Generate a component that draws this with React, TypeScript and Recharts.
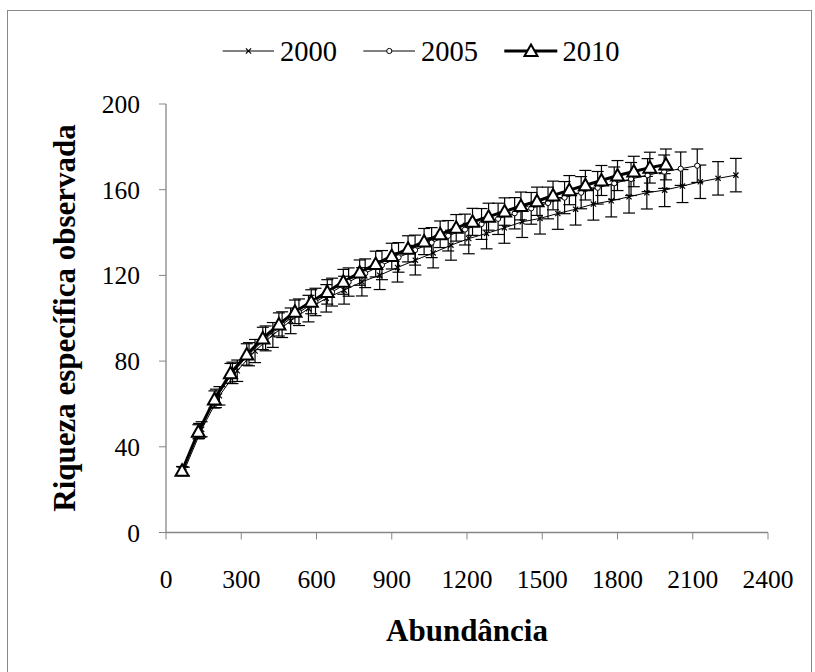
import React from "react";
import { LineChart, Line, XAxis, YAxis, ErrorBar } from "recharts";

const seriesNames = ["2000", "2005", "2010"];
const xTicks = [0, 300, 600, 900, 1200, 1500, 1800, 2100, 2400];
const yTicks = [0, 40, 80, 120, 160, 200];

const x2000 = [71, 142, 213, 284, 355, 426, 497, 568, 639, 710, 781, 852, 923, 994, 1065, 1136, 1207, 1278, 1349, 1420, 1491, 1562, 1633, 1704, 1775, 1846, 1917, 1988, 2059, 2130, 2201, 2272];
const y2000 = [28.5, 48.2, 63.8, 75.5, 84.7, 92.2, 98.8, 104.5, 109.3, 113.1, 117.0, 120.1, 123.7, 127.1, 130.5, 134.1, 137.2, 139.6, 142.2, 145.0, 146.6, 148.9, 150.9, 153.3, 154.8, 156.7, 158.6, 159.8, 161.7, 163.7, 165.3, 166.8];
const e2000 = [2.0, 3.5, 4.3, 5.0, 5.4, 5.8, 6.0, 6.2, 6.4, 6.5, 6.6, 6.7, 6.8, 6.9, 7.0, 7.0, 7.1, 7.2, 7.2, 7.3, 7.3, 7.4, 7.4, 7.5, 7.5, 7.6, 7.6, 7.7, 7.7, 7.8, 7.8, 7.8];

const x2005 = [66, 132, 199, 265, 331, 397, 463, 530, 596, 662, 728, 794, 861, 927, 993, 1059, 1125, 1192, 1258, 1324, 1390, 1456, 1523, 1589, 1655, 1721, 1787, 1854, 1920, 1986, 2052, 2118];
const y2005 = [28.6, 47.4, 62.6, 74.5, 83.2, 90.6, 97.0, 102.8, 107.6, 112.2, 116.9, 121.0, 124.8, 128.4, 131.8, 135.3, 138.5, 141.4, 144.0, 146.4, 149.0, 151.3, 153.8, 156.3, 158.6, 160.9, 163.0, 165.0, 166.8, 168.4, 169.8, 171.2];
const e2005 = [2.0, 3.5, 4.3, 5.0, 5.4, 5.8, 6.0, 6.2, 6.4, 6.5, 6.6, 6.7, 6.8, 6.9, 7.0, 7.0, 7.1, 7.2, 7.2, 7.3, 7.3, 7.4, 7.4, 7.5, 7.5, 7.6, 7.6, 7.7, 7.7, 7.8, 7.8, 7.8];

const x2010 = [64, 129, 193, 257, 322, 386, 450, 514, 579, 643, 707, 772, 836, 900, 965, 1029, 1093, 1157, 1222, 1286, 1350, 1415, 1479, 1543, 1608, 1672, 1736, 1800, 1865, 1929, 1993];
const y2010 = [28.8, 47.0, 62.1, 74.3, 83.1, 90.6, 97.1, 103.0, 107.7, 112.3, 117.0, 121.3, 125.3, 129.0, 132.4, 135.8, 139.2, 142.2, 145.0, 147.4, 149.8, 152.4, 154.6, 157.3, 159.8, 162.1, 164.3, 166.6, 168.5, 170.3, 171.8];
const e2010 = [2.0, 3.3, 4.0, 4.6, 5.0, 5.2, 5.4, 5.5, 5.6, 5.7, 5.8, 5.9, 6.0, 6.0, 6.1, 6.1, 6.2, 6.2, 6.3, 6.3, 6.4, 6.5, 6.6, 6.7, 6.8, 6.9, 7.0, 7.0, 7.1, 7.2, 7.2];

const build = (xs: number[], ys: number[], es: number[]) =>
  xs.map((x, i) => ({ x, y: ys[i], err: es[i] }));

const data2000 = build(x2000, y2000, e2000);
const data2005 = build(x2005, y2005, e2005);
const data2010 = build(x2010, y2010, e2010);

const FONT = '"Liberation Serif", "Times New Roman", serif';
const AXIS = "#868686";

const XMark = ({ cx, cy }: { cx: number; cy: number }) => (
  <g stroke="#000" strokeWidth={1.2}>
    <line x1={cx - 2.6} y1={cy - 2.6} x2={cx + 2.6} y2={cy + 2.6} />
    <line x1={cx - 2.6} y1={cy + 2.6} x2={cx + 2.6} y2={cy - 2.6} />
  </g>
);
const CircleMark = ({ cx, cy }: { cx: number; cy: number }) => (
  <circle cx={cx} cy={cy} r={2.6} fill="#fff" stroke="#000" strokeWidth={1} />
);
const TriMark = ({ cx, cy }: { cx: number; cy: number }) => (
  <polygon
    points={`${cx},${cy - 6.5} ${cx + 6.5},${cy + 5} ${cx - 6.5},${cy + 5}`}
    fill="#fff"
    stroke="#000"
    strokeWidth={2}
    strokeLinejoin="miter"
  />
);

export default function App() {
  return (
    <div
      style={{
        position: "absolute",
        left: 0,
        top: 0,
        width: 815,
        height: 672,
        overflow: "hidden",
        background: "#fff",
      }}
    >
      <div style={{ position: "absolute", left: 0, top: 0 }}>
        <LineChart
          width={815}
          height={672}
          margin={{ top: 104, right: 47, left: 106, bottom: 109.5 }}
        >
          <XAxis
            dataKey="x"
            type="number"
            domain={[0, 2400]}
            ticks={xTicks}
            allowDataOverflow
            stroke={AXIS}
            tickSize={7}
            tickMargin={30}
            height={30}
            tick={{ fill: "#000", fontSize: 25.5, fontFamily: FONT }}
            tickLine={{ stroke: AXIS }}
            axisLine={{ stroke: AXIS, strokeWidth: 1.3 }}
          />
          <YAxis
            type="number"
            domain={[0, 200]}
            ticks={yTicks}
            width={60}
            stroke={AXIS}
            tickSize={7}
            tickMargin={19}
            tick={{ fill: "#000", fontSize: 25.5, fontFamily: FONT }}
            tickLine={{ stroke: AXIS }}
            axisLine={{ stroke: AXIS, strokeWidth: 1.3 }}
          />
          <Line
            data={data2000}
            dataKey="y"
            name={seriesNames[0]}
            stroke="#000"
            strokeWidth={1}
            isAnimationActive={false}
            dot={(p: any) => <XMark key={`a${p.index}`} cx={p.cx} cy={p.cy} />}
          >
            <ErrorBar dataKey="err" direction="y" width={6} stroke="#000" strokeWidth={1.2} isAnimationActive={false} />
          </Line>
          <Line
            data={data2005}
            dataKey="y"
            name={seriesNames[1]}
            stroke="#000"
            strokeWidth={1}
            isAnimationActive={false}
            dot={(p: any) => <CircleMark key={`b${p.index}`} cx={p.cx} cy={p.cy} />}
          >
            <ErrorBar dataKey="err" direction="y" width={6} stroke="#000" strokeWidth={1.2} isAnimationActive={false} />
          </Line>
          <Line
            data={data2010}
            dataKey="y"
            name={seriesNames[2]}
            stroke="#000"
            strokeWidth={3}
            isAnimationActive={false}
            dot={(p: any) => <TriMark key={`c${p.index}`} cx={p.cx} cy={p.cy} />}
          >
            <ErrorBar dataKey="err" direction="y" width={6} stroke="#000" strokeWidth={1.2} isAnimationActive={false} />
          </Line>
        </LineChart>
      </div>
      <svg
        width={815}
        height={672}
        style={{ position: "absolute", left: 0, top: 0, pointerEvents: "none" }}
        fontFamily={FONT}
      >
        <rect x={7.5} y={10.5} width={804} height={670} fill="none" stroke="#898989" strokeWidth={1} />
        {/* legend */}
        <line x1={222.7} y1={51} x2={274} y2={51} stroke="#000" strokeWidth={1} />
        <XMark cx={248.5} cy={51} />
        <text x={280} y={61} fontSize={28.5} fill="#000">{seriesNames[0]}</text>
        <line x1={363.3} y1={51} x2={415} y2={51} stroke="#000" strokeWidth={1} />
        <CircleMark cx={389.3} cy={51} />
        <text x={421} y={61} fontSize={28.5} fill="#000">{seriesNames[1]}</text>
        <line x1={504.3} y1={51} x2={557.3} y2={51} stroke="#000" strokeWidth={3} />
        <TriMark cx={531} cy={51} />
        <text x={562.5} y={61} fontSize={28.5} fill="#000">{seriesNames[2]}</text>
        {/* axis titles */}
        <text
          transform="rotate(-90)"
          x={-318}
          y={75}
          textAnchor="middle"
          fontSize={31}
          fontWeight="bold"
          fill="#000"
        >
          Riqueza específica observada
        </text>
        <text x={467} y={641} textAnchor="middle" fontSize={31} fontWeight="bold" fill="#000">
          Abundância
        </text>
      </svg>
    </div>
  );
}
